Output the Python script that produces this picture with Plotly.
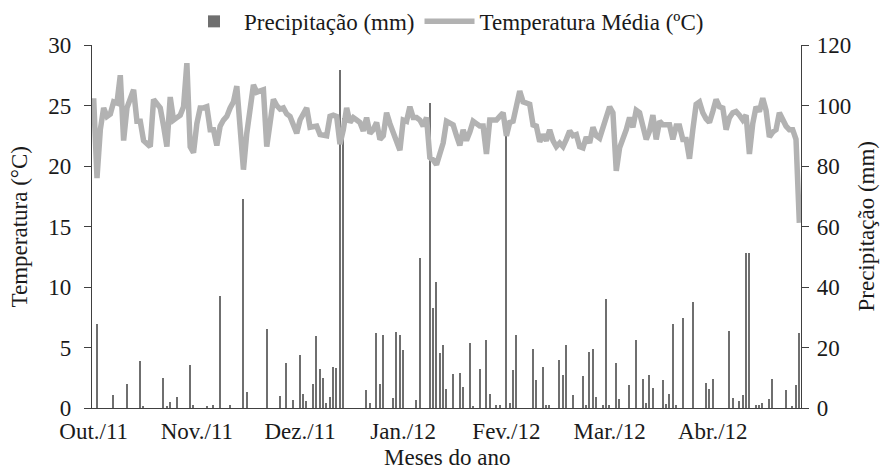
import pandas as pd
import plotly.graph_objects as go

# Daily dates (Oct 1 2011 - Apr 30 2012)
dates = list(pd.date_range("2011-10-01", "2012-04-30", freq="D"))

# Mean daily temperature (°C), one value per day
temp_mean = [
    25.6, 19.0, 23.0, 24.8, 24.1, 24.3, 25.3, 25.2, 27.5, 22.1,
    24.8, 25.5, 26.3, 23.7, 23.7, 22.1, 21.8, 21.6, 25.5, 25.2,
    24.8, 23.3, 21.6, 25.7, 23.8, 24.0, 24.2, 24.9, 28.5, 21.6,
    21.1, 23.5, 24.8, 24.8, 24.9, 23.0, 23.0, 21.7, 23.3, 23.8,
    24.1, 24.8, 25.3, 26.6, 23.0, 19.7, 22.7, 25.0, 26.7, 26.1,
    26.2, 26.3, 21.6, 23.5, 25.5, 25.0, 24.7, 24.8, 24.3, 24.1,
    23.5, 22.7, 23.8, 24.4, 24.8, 23.2, 23.3, 23.3, 22.6, 22.5,
    22.5, 24.1, 24.2, 24.1, 21.8, 23.0, 24.8, 23.6, 24.0, 23.8,
    23.6, 22.9, 24.0, 22.7, 23.0, 23.6, 22.2, 22.5, 24.4, 23.5,
    22.7, 22.2, 21.3, 23.8, 23.7, 24.9, 24.0, 24.0, 23.8, 23.3,
    24.0, 20.7, 20.5, 20.1, 21.0, 21.9, 23.7, 23.5, 23.4, 22.5,
    21.7, 23.0, 22.1, 22.8, 23.7, 23.5, 23.3, 23.3, 21.0, 23.8,
    23.8, 23.8, 24.1, 24.4, 22.5, 23.6, 23.7, 24.8, 26.2, 25.3,
    25.2, 25.1, 23.4, 23.3, 22.0, 22.6, 22.1, 23.0, 22.1, 21.6,
    21.9, 21.6, 22.2, 22.9, 22.5, 22.6, 21.6, 21.5, 22.4, 21.9,
    23.2, 22.5, 22.3, 23.2, 24.0, 24.9, 24.4, 19.6, 21.5, 22.2,
    23.0, 24.0, 23.2, 24.6, 24.4, 23.3, 22.2, 22.9, 24.2, 22.2,
    23.7, 23.4, 23.4, 23.4, 22.2, 23.3, 23.3, 22.2, 22.2, 20.6,
    23.0, 25.1, 25.3, 24.4, 23.9, 23.6, 24.5, 25.5, 24.9, 24.8,
    23.0, 24.0, 24.4, 24.5, 24.2, 23.8, 24.2, 21.0, 23.5, 24.9,
    24.5, 25.6, 24.6, 22.4, 22.8, 23.0, 24.4, 23.7, 23.3, 23.0,
    23.0, 22.2, 15.3,
]

# Rainy days (index from Oct 1) and precipitation (mm)
rain_day = [
    1, 6, 10, 14, 15, 21, 22, 23, 25, 29, 30, 34, 36, 38, 41, 45, 46, 52, 56, 58,
    60, 62, 63, 64, 66, 67, 68, 69, 70, 71, 72, 73, 74, 75, 82, 83, 85, 86, 87, 90,
    91, 92, 93, 97, 98, 101, 102, 103, 104, 105, 106, 108, 110, 111, 113, 114, 116,
    118, 119, 121, 122, 124, 125, 126, 127, 132, 133, 135, 136, 137, 140, 141, 142,
    144, 147, 148, 149, 150, 151, 153, 154, 155, 157, 158, 161, 163, 165, 166, 167,
    168, 171, 172, 173, 174, 175, 177, 180, 184, 185, 186, 191, 192, 194, 195, 196,
    197, 199, 200, 201, 203, 204, 208, 210, 211, 212,
]
rain_mm = [
    27.7, 4.2, 7.8, 15.5, 0.4, 9.8, 0.4, 2.1, 3.6, 14.1, 1.1, 0.4, 0.9, 37.0, 0.9,
    69.2, 5.3, 26.2, 3.9, 14.8, 2.5, 17.5, 4.5, 2.2, 7.8, 23.8, 13.0, 9.8, 1.8, 3.5,
    13.7, 13.3, 111.6, 96.0, 6.0, 1.8, 24.9, 7.8, 24.1, 3.2, 25.2, 24.1, 19.1, 2.5,
    49.7, 100.8, 33.2, 41.7, 18.3, 20.7, 6.4, 11.2, 11.7, 7.1, 21.4, 0.7, 13.0, 22.5,
    4.5, 1.1, 1.1, 90.0, 1.8, 12.6, 24.1, 19.4, 9.1, 13.7, 1.1, 1.1, 15.8, 10.8, 20.7,
    4.2, 10.6, 1.1, 18.6, 19.4, 3.7, 1.1, 36.2, 1.1, 15.0, 3.1, 7.7, 22.4, 9.5, 1.8,
    10.9, 6.7, 9.1, 1.4, 4.5, 27.7, 1.1, 29.9, 35.0, 8.2, 6.4, 9.5, 25.5, 3.2, 2.2,
    4.2, 51.1, 51.3, 1.1, 1.1, 1.8, 3.1, 9.5, 6.1, 0.8, 7.5, 24.9,
]

# Month tick labels (every 31 days)
tick_labels = ["Out./11", "Nov./11", "Dez./11", "Jan./12", "Fev./12", "Mar./12", "Abr./12"]
tick_idx = [0, 31, 62, 93, 124, 155, 186]

FONT = "Liberation Serif, Times New Roman, serif"
AX = "#404040"
FS = 23

rain_x = [dates[d] for d in rain_day]

fig = go.Figure()
fig.add_trace(go.Bar(
    x=rain_x, y=rain_mm, name="Precipitação (mm)",
    marker=dict(color="#6f6f6f", line=dict(width=0)),
    width=0.45 * 86400000, yaxis="y",
))
fig.add_trace(go.Scatter(
    x=dates, y=temp_mean, name="Temperatura Média (ºC)", mode="lines",
    line=dict(color="#b2b2b2", width=5.5), yaxis="y2",
))

fig.update_layout(
    width=883, height=471,
    margin=dict(l=92, r=82, t=45, b=63, autoexpand=False),
    paper_bgcolor="white", plot_bgcolor="white",
    font=dict(family=FONT, size=FS, color="#1a1a1a"),
    showlegend=True,
    legend=dict(orientation="h", x=0.5, xanchor="center", y=1.065, yanchor="middle",
                font=dict(size=FS), traceorder="normal", itemwidth=50),
    bargap=0,
    xaxis=dict(
        range=[pd.Timestamp("2011-10-01") - pd.Timedelta(hours=12),
               pd.Timestamp("2012-04-30") + pd.Timedelta(hours=12)],
        tickvals=[dates[i] for i in tick_idx], ticktext=tick_labels,
        ticks="", showgrid=False, zeroline=False, automargin=False,
        showline=True, linecolor=AX, linewidth=1.2,
        ticklabelstandoff=2,
        tickfont=dict(size=FS),
    ),
    yaxis=dict(
        side="right", range=[0, 120], dtick=20, automargin=False,
        ticks="outside", ticklen=7, tickcolor=AX,
        showgrid=False, zeroline=False, showline=True, linecolor=AX, linewidth=1.2,
        ticklabelstandoff=3,
        tickfont=dict(size=FS),
    ),
    yaxis2=dict(
        side="left", overlaying="y", range=[0, 30], dtick=5, automargin=False,
        ticks="outside", ticklen=7, tickcolor=AX,
        showgrid=False, zeroline=False, showline=True, linecolor=AX, linewidth=1.2,
        ticklabelstandoff=8,
        tickfont=dict(size=FS),
    ),
    annotations=[
        dict(text="Meses do ano", xref="paper", yref="paper", x=0.5, y=-0.136,
             xanchor="center", yanchor="middle", showarrow=False, font=dict(size=FS)),
        dict(text="Temperatura (°C)", xref="paper", yref="paper", x=-0.1016, y=0.5,
             xanchor="center", yanchor="middle", textangle=-90, showarrow=False,
             font=dict(size=FS)),
        dict(text="Precipitação (mm)", xref="paper", yref="paper", x=1.0917, y=0.5,
             xanchor="center", yanchor="middle", textangle=-90, showarrow=False,
             font=dict(size=FS)),
    ],
)

# Remove the browser's default 8px body margin so the figure fills the window
fig.write_html(
    "out.html",
    config={"displayModeBar": False},
    post_script="document.body.style.margin='0';document.body.style.overflow='hidden';",
)
